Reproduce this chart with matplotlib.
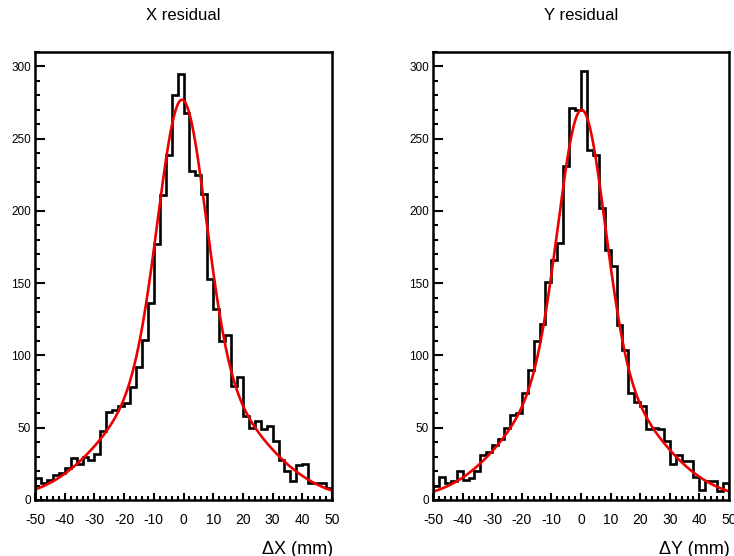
import numpy as np
import matplotlib
matplotlib.use("Agg")
from matplotlib import pyplot as plt
from matplotlib.ticker import MultipleLocator

# histogram contents, 50 bins of 2 mm from -50 to 50
edges = np.linspace(-50, 50, 51)
x_counts = [15, 12, 14, 17, 19, 22, 29, 25, 30, 28, 32, 48, 61, 62, 65, 67, 78, 92, 111, 136,
            177, 211, 239, 280, 295, 268, 228, 225, 212, 153, 132, 110, 114, 79, 85, 58, 50, 55, 49, 51,
            41, 28, 20, 13, 24, 25, 12, 12, 12, 8]
y_counts = [10, 16, 12, 13, 20, 14, 15, 20, 31, 33, 38, 42, 50, 59, 60, 74, 90, 110, 122, 151,
            166, 178, 231, 271, 270, 297, 242, 239, 202, 173, 162, 121, 104, 74, 68, 65, 49, 50, 49, 41,
            25, 31, 27, 27, 16, 7, 13, 13, 6, 12]

# double gaussian fit parameters: (A1, s1, A2, s2, mean)
x_fit = (186.0, 7.9, 91.0, 22.0, -0.5)
y_fit = (178.0, 7.7, 92.0, 21.3, 0.2)

titles = ["X residual", "Y residual"]
xlabels = ["\u0394X (mm)", "\u0394Y (mm)"]


def double_gauss(x, a1, s1, a2, s2, mu):
    return a1 * np.exp(-0.5 * ((x - mu) / s1) ** 2) + a2 * np.exp(-0.5 * ((x - mu) / s2) ** 2)


plt.rcParams['font.family'] = ['Liberation Sans', 'DejaVu Sans']
plt.rcParams['axes.unicode_minus'] = False

fig = plt.figure(figsize=(7.34, 5.56), dpi=100)
W, H = 734.0, 556.0
boxes = [(35, 332), (433, 729)]
top, bottom = 52, 500

for i, (counts, fit) in enumerate([(x_counts, x_fit), (y_counts, y_fit)]):
    x0, x1 = boxes[i]
    ax = fig.add_axes([x0 / W, 1 - bottom / H, (x1 - x0) / W, (bottom - top) / H])
    ax.stairs(counts, edges, color="black", lw=1.9)
    xs = np.linspace(-50, 50, 400)
    ax.plot(xs, double_gauss(xs, *fit), color="#ee0000", lw=1.9)

    ax.set_xlim(-50, 50)
    ax.set_ylim(0, 310)
    ax.xaxis.set_major_locator(MultipleLocator(10))
    ax.xaxis.set_minor_locator(MultipleLocator(2))
    ax.yaxis.set_major_locator(MultipleLocator(50))
    ax.yaxis.set_minor_locator(MultipleLocator(10))
    ax.tick_params(axis="x", which="major", direction="in", length=5, width=1.5, labelsize=10, pad=9)
    ax.tick_params(axis="x", which="minor", direction="in", length=3, width=1.5)
    ax.tick_params(axis="y", which="major", direction="in", length=7, width=1.5, labelsize=8.5, pad=3)
    ax.tick_params(axis="y", which="minor", direction="in", length=3.5, width=1.5)
    for sp in ax.spines.values():
        sp.set_linewidth(1.8)

    fig.text((x0 + x1) / 2 / W, 1 - 16 / H, titles[i], ha="center", va="center", fontsize=12)
    fig.text((x1 + 1) / W, 1 - 549 / H, xlabels[i], ha="right", va="center", fontsize=13)

fig.savefig("out.png", dpi=100)
